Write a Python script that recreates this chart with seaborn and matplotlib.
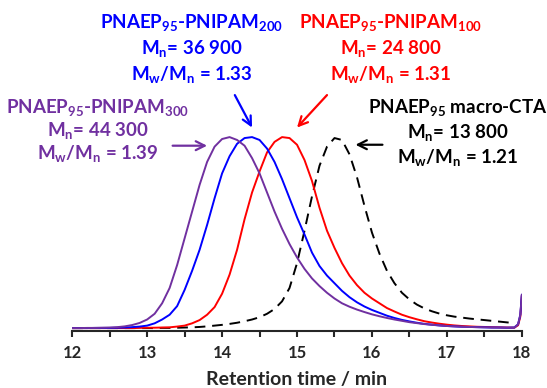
import numpy as np
import pandas as pd
import matplotlib
matplotlib.use("Agg")
import matplotlib.pyplot as plt
from matplotlib.ticker import MultipleLocator
import seaborn as sns

# ===================== DATA (normalised) =====================
retention_time = [12.0, 12.1, 12.2, 12.3, 12.4, 12.5, 12.6, 12.7, 12.8, 12.9,
                  13.0, 13.1, 13.2, 13.3, 13.4, 13.5, 13.6, 13.7, 13.8, 13.9,
                  14.0, 14.1, 14.2, 14.3, 14.4, 14.5, 14.6, 14.7, 14.8, 14.9,
                  15.0, 15.1, 15.2, 15.3, 15.4, 15.5, 15.6, 15.7, 15.8, 15.9,
                  16.0, 16.1, 16.2, 16.3, 16.4, 16.5, 16.6, 16.7, 16.8, 16.9,
                  17.0, 17.1, 17.2, 17.3, 17.4, 17.5, 17.6, 17.7, 17.8, 17.9,
                  17.95, 17.98, 18.0]

pnipam300 = [0.000, 0.000, 0.001, 0.001, 0.002, 0.003, 0.005, 0.009, 0.016, 0.027,
             0.045, 0.075, 0.130, 0.210, 0.330, 0.470, 0.610, 0.750, 0.870, 0.950,
             0.990, 1.000, 0.985, 0.955, 0.890, 0.810, 0.710, 0.610, 0.520, 0.440,
             0.370, 0.310, 0.260, 0.220, 0.185, 0.155, 0.130, 0.112, 0.097, 0.084,
             0.072, 0.062, 0.053, 0.045, 0.038, 0.031, 0.026, 0.021, 0.017, 0.014,
             0.011, 0.009, 0.007, 0.006, 0.005, 0.004, 0.003, 0.003, 0.002, 0.003,
             0.020, 0.070, 0.175]

pnipam200 = [0.000, 0.000, 0.000, 0.001, 0.001, 0.001, 0.002, 0.003, 0.005, 0.008,
             0.013, 0.025, 0.045, 0.070, 0.115, 0.200, 0.300, 0.410, 0.540, 0.680,
             0.810, 0.900, 0.965, 0.995, 1.000, 0.985, 0.940, 0.870, 0.780, 0.680,
             0.580, 0.490, 0.395, 0.325, 0.275, 0.235, 0.195, 0.162, 0.135, 0.113,
             0.095, 0.080, 0.065, 0.053, 0.043, 0.035, 0.028, 0.022, 0.018, 0.014,
             0.011, 0.009, 0.007, 0.006, 0.005, 0.004, 0.003, 0.003, 0.002, 0.003,
             0.020, 0.070, 0.175]

pnipam100 = [0.000, 0.000, 0.000, 0.000, 0.000, 0.000, 0.000, 0.000, 0.000, 0.001,
             0.002, 0.002, 0.003, 0.004, 0.008, 0.013, 0.025, 0.042, 0.070, 0.110,
             0.180, 0.280, 0.410, 0.570, 0.710, 0.820, 0.920, 0.975, 1.000, 0.995,
             0.960, 0.880, 0.770, 0.630, 0.510, 0.420, 0.340, 0.275, 0.225, 0.185,
             0.155, 0.130, 0.105, 0.087, 0.070, 0.057, 0.046, 0.036, 0.029, 0.023,
             0.018, 0.014, 0.011, 0.009, 0.007, 0.006, 0.005, 0.004, 0.003, 0.002,
             0.015, 0.060, 0.170]

macro_cta = [0.000, 0.000, 0.000, 0.000, 0.000, 0.000, 0.000, 0.000, 0.000, 0.000,
             0.000, 0.000, 0.001, 0.001, 0.002, 0.003, 0.004, 0.006, 0.009, 0.013,
             0.017, 0.022, 0.028, 0.036, 0.045, 0.057, 0.075, 0.100, 0.140, 0.210,
             0.340, 0.510, 0.690, 0.850, 0.950, 0.995, 0.985, 0.910, 0.790, 0.640,
             0.500, 0.390, 0.300, 0.235, 0.185, 0.150, 0.123, 0.103, 0.088, 0.076,
             0.067, 0.060, 0.055, 0.050, 0.046, 0.042, 0.038, 0.034, 0.030, 0.026]

labels = {
    "cta": ["PNAEP$_{95}$ macro-CTA", "M$_n$= 13 800", "M$_w$/M$_n$ = 1.21"],
    "p100": ["PNAEP$_{95}$-PNIPAM$_{100}$", "M$_n$= 24 800", "M$_w$/M$_n$ = 1.31"],
    "p200": ["PNAEP$_{95}$-PNIPAM$_{200}$", "M$_n$= 36 900", "M$_w$/M$_n$ = 1.33"],
    "p300": ["PNAEP$_{95}$-PNIPAM$_{300}$", "M$_n$= 44 300", "M$_w$/M$_n$ = 1.39"],
}

# ===================== STYLE =====================
sns.set_style("white")
plt.rcParams["font.family"] = ["Lato", "DejaVu Sans"]
plt.rcParams["font.weight"] = "bold"
plt.rcParams["mathtext.default"] = "regular"

PURPLE, BLUE, RED, BLACK = "#7030A0", "#0000FF", "#FF0000", "#000000"

fig = plt.figure(figsize=(5.47, 3.88), dpi=100)
ax = fig.add_axes([0.132, 0.147, 0.822, 0.827])

# ===================== TRACES =====================
df_cta = pd.DataFrame({"t": retention_time[:len(macro_cta)], "ri": macro_cta})
sns.lineplot(data=df_cta, x="t", y="ri", ax=ax, color=BLACK, lw=1.4,
             linestyle=(0, (5.5, 3.5)), sort=False, estimator=None)
for vals, col in [(pnipam100, RED), (pnipam200, BLUE), (pnipam300, PURPLE)]:
    d = pd.DataFrame({"t": retention_time, "ri": vals})
    sns.lineplot(data=d, x="t", y="ri", ax=ax, color=col, lw=1.4,
                 sort=False, estimator=None)

ax.set_xlim(12, 18)
ax.set_ylim(-0.015, 1.665)

for s in ["left", "top", "right"]:
    ax.spines[s].set_visible(False)
ax.spines["bottom"].set_linewidth(1.5)
ax.set_yticks([])
ax.set_ylabel("")
ax.xaxis.set_major_locator(MultipleLocator(1))
ax.xaxis.set_minor_locator(MultipleLocator(0.5))
ax.tick_params(axis="x", which="both", direction="out", length=4, width=1.5,
               bottom=True, labelsize=12, pad=6)
for lab in ax.get_xticklabels():
    lab.set_fontweight("bold")
ax.set_xlabel("Retention time / min", fontsize=14, fontweight="bold", labelpad=7)

# ===================== ANNOTATIONS =====================
def block(x, ys, lines, color):
    for y, txt in zip(ys, lines):
        ax.text(x, y, txt, color=color, fontsize=13.5, fontweight="bold",
                ha="center", va="center", clip_on=False)

block(13.59, [1.60, 1.465, 1.33], labels["p200"], BLUE)
block(16.25, [1.60, 1.465, 1.33], labels["p100"], RED)
block(12.34, [1.155, 1.035, 0.915], labels["p300"], PURPLE)
block(17.15, [1.155, 1.025, 0.895], labels["cta"], BLACK)

arrow_kw = dict(arrowstyle="->", lw=1.6, mutation_scale=16, shrinkA=0, shrinkB=0)
ax.annotate("", xy=(14.40, 1.05), xytext=(14.17, 1.22), arrowprops=dict(color=BLUE, **arrow_kw))
ax.annotate("", xy=(15.00, 1.05), xytext=(15.40, 1.22), arrowprops=dict(color=RED, **arrow_kw))
ax.annotate("", xy=(15.78, 0.96), xytext=(16.14, 0.96), arrowprops=dict(color=BLACK, **arrow_kw))
ax.annotate("", xy=(13.80, 0.955), xytext=(13.34, 0.955), arrowprops=dict(color=PURPLE, **arrow_kw))

fig.savefig("out.png", dpi=100)
